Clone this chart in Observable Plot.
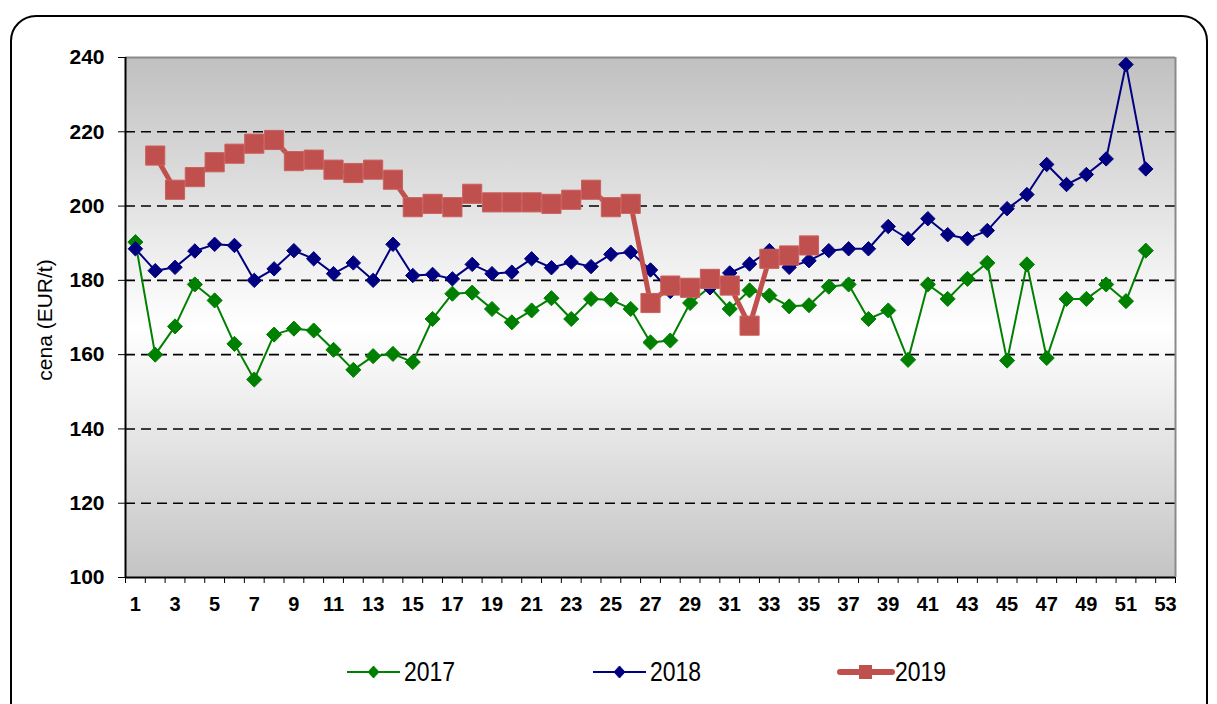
<!DOCTYPE html>
<html><head><meta charset="utf-8">
<script src="https://cdn.jsdelivr.net/npm/d3@7"></script>
<script src="https://cdn.jsdelivr.net/npm/@observablehq/plot@0.6"></script>
<style>
body{margin:0;background:#fff;}
#wrap{position:relative;width:1217px;height:704px;overflow:hidden;font-family:"Liberation Sans",Arial,sans-serif;}
#border{position:absolute;left:10px;top:15px;width:1198px;height:760px;border:2px solid #000;border-radius:26px;pointer-events:none;box-sizing:border-box;z-index:5;}
#ylabel{position:absolute;left:45px;top:320px;transform:translate(-50%,-50%) rotate(-90deg);font-size:21px;white-space:nowrap;color:#000;}
#legend{position:absolute;top:655px;left:0;width:1217px;height:34px;}
.li{position:absolute;top:0;height:34px;display:flex;align-items:center;}
.li span{display:inline-block;font-size:28px;transform:scaleX(0.82);transform-origin:left center;line-height:34px;}
#chart svg{background:transparent !important;}
</style></head>
<body>
<div id="wrap">
  <div id="chart"></div>
  <div id="ylabel">cena (EUR/t)</div>
  <div id="legend"></div>
  <div id="border"></div>
</div>
<script>
const weeks = d3.range(1, 53);
const xTickLabels = d3.range(1, 54, 2);
const yTicks = [100, 120, 140, 160, 180, 200, 220, 240];
const gridValues = [120, 140, 160, 180, 200, 220];

const v2017 = [190.3,160.0,167.6,178.9,174.6,162.9,153.3,165.4,167.0,166.5,161.3,155.9,159.6,160.2,158.0,169.6,176.4,176.7,172.3,168.7,171.9,175.2,169.6,175.0,174.8,172.3,163.3,163.8,173.9,178.2,172.3,177.3,175.9,173.0,173.3,178.3,178.9,169.6,171.9,158.6,178.9,175.0,180.4,184.7,158.4,184.3,159.1,175.0,175.0,178.9,174.4,188.0];
const v2018 = [188.5,182.6,183.5,187.9,189.7,189.4,180.0,183.1,188.0,185.8,181.8,184.7,180.0,189.7,181.3,181.6,180.4,184.3,181.8,182.2,185.8,183.4,184.9,183.7,187.0,187.6,182.8,177.0,178.5,178.0,182.0,184.4,188.0,183.5,185.3,188.0,188.5,188.5,194.5,191.2,196.6,192.3,191.2,193.4,199.3,203.1,211.2,205.8,208.5,212.7,238.1,210.0];
const v2019 = [null,213.6,204.4,207.8,211.8,214.1,216.8,217.8,212.1,212.5,209.8,208.9,209.8,207.1,199.7,200.6,199.7,203.3,201.0,201.0,201.0,200.6,201.7,204.4,199.7,200.6,173.9,178.6,178.0,180.4,178.6,167.8,185.8,186.7,189.4];

const seriesNames = ["2017", "2018", "2019"];
const seriesValues = [v2017, v2018, v2019];
const seriesColors = ["#008000", "#000080", "#C0504D"];

const data = [];
seriesNames.forEach((name, s) => {
  seriesValues[s].forEach((v, i) => {
    if (v != null) data.push({week: weeks[i], value: v, series: name});
  });
});
const of = name => d => d.series === name;

const chart = Plot.plot({
  width: 1217,
  height: 640,
  marginLeft: 125,
  marginRight: 42,
  marginTop: 57,
  marginBottom: 63,
  style: {fontFamily: "'Liberation Sans', Arial, sans-serif", background: "transparent"},
  x: {type: "linear", domain: [0.5, 53.5], axis: null},
  y: {type: "linear", domain: [100, 240], axis: null},
  marks: [
    Plot.frame({fill: "url(#bgGrad)", stroke: "none"}),
    Plot.ruleY(gridValues, {stroke: "#000", strokeWidth: 1.6, strokeDasharray: "10,6"}),
    Plot.ruleY([240], {stroke: "#8a8a8a", strokeWidth: 2}),
    Plot.ruleX([53.5], {stroke: "#8a8a8a", strokeWidth: 2}),
    Plot.axisY({ticks: yTicks, tickSize: 7, tickPadding: 14, tickFormat: d => String(d), fontSize: 21, fontWeight: "bold", label: null, stroke: "#000", color: "#000"}),
    Plot.axisX({ticks: d3.range(0.5, 54, 1), tickSize: 6, tickFormat: () => "", label: null, stroke: "#000"}),
    Plot.axisX({ticks: xTickLabels, tickSize: 0, tickPadding: 19, tickFormat: d => String(d), fontSize: 20, fontWeight: "bold", label: null, color: "#000"}),
    Plot.ruleX([0.5], {stroke: "#000", strokeWidth: 2}),
    Plot.ruleY([100], {stroke: "#000", strokeWidth: 2}),
    Plot.line(data, {filter: of("2017"), x: "week", y: "value", stroke: seriesColors[0], strokeWidth: 2}),
    Plot.dot(data, {filter: of("2017"), x: "week", y: "value", symbol: "diamond2", r: 6.8, fill: seriesColors[0], stroke: seriesColors[0], strokeWidth: 1}),
    Plot.line(data, {filter: of("2018"), x: "week", y: "value", stroke: seriesColors[1], strokeWidth: 2}),
    Plot.dot(data, {filter: of("2018"), x: "week", y: "value", symbol: "diamond2", r: 6.5, fill: seriesColors[1], stroke: seriesColors[1], strokeWidth: 1}),
    Plot.line(data, {filter: of("2019"), x: "week", y: "value", stroke: seriesColors[2], strokeWidth: 5}),
    Plot.dot(data, {filter: of("2019"), x: "week", y: "value", symbol: "square", r: 10.8, fill: seriesColors[2], stroke: "#c9615e", strokeWidth: 1})
  ]
});

const defs = d3.select(chart).insert("defs", ":first-child");
const grad = defs.append("linearGradient").attr("id", "bgGrad")
  .attr("x1", 0).attr("y1", 0).attr("x2", 0).attr("y2", 1);
grad.append("stop").attr("offset", "0").attr("stop-color", "#c0c0c0");
grad.append("stop").attr("offset", "0.52").attr("stop-color", "#ffffff");
grad.append("stop").attr("offset", "1").attr("stop-color", "#c4c4c4");

document.getElementById("chart").appendChild(chart);

// legend
const legendLefts = [346, 592, 837];
const legend = d3.select("#legend");
seriesNames.forEach((name, i) => {
  const item = legend.append("div").attr("class", "li").style("left", legendLefts[i] + "px");
  const sv = item.append("svg").attr("width", 58).attr("height", 20);
  const c = seriesColors[i];
  if (i < 2) {
    sv.append("line").attr("x1", 1).attr("x2", 54).attr("y1", 10).attr("y2", 10).attr("stroke", c).attr("stroke-width", 2);
    sv.append("path").attr("d", "M27.5,4L33,10L27.5,16L22,10Z").attr("fill", c).attr("stroke", c);
  } else {
    sv.append("line").attr("x1", 3).attr("x2", 55).attr("y1", 10).attr("y2", 10).attr("stroke", c).attr("stroke-width", 6).attr("stroke-linecap", "round");
    sv.append("rect").attr("x", 22).attr("y", 3).attr("width", 13).attr("height", 14).attr("fill", c);
  }
  item.append("span").text(name);
});
</script>
</body></html>
